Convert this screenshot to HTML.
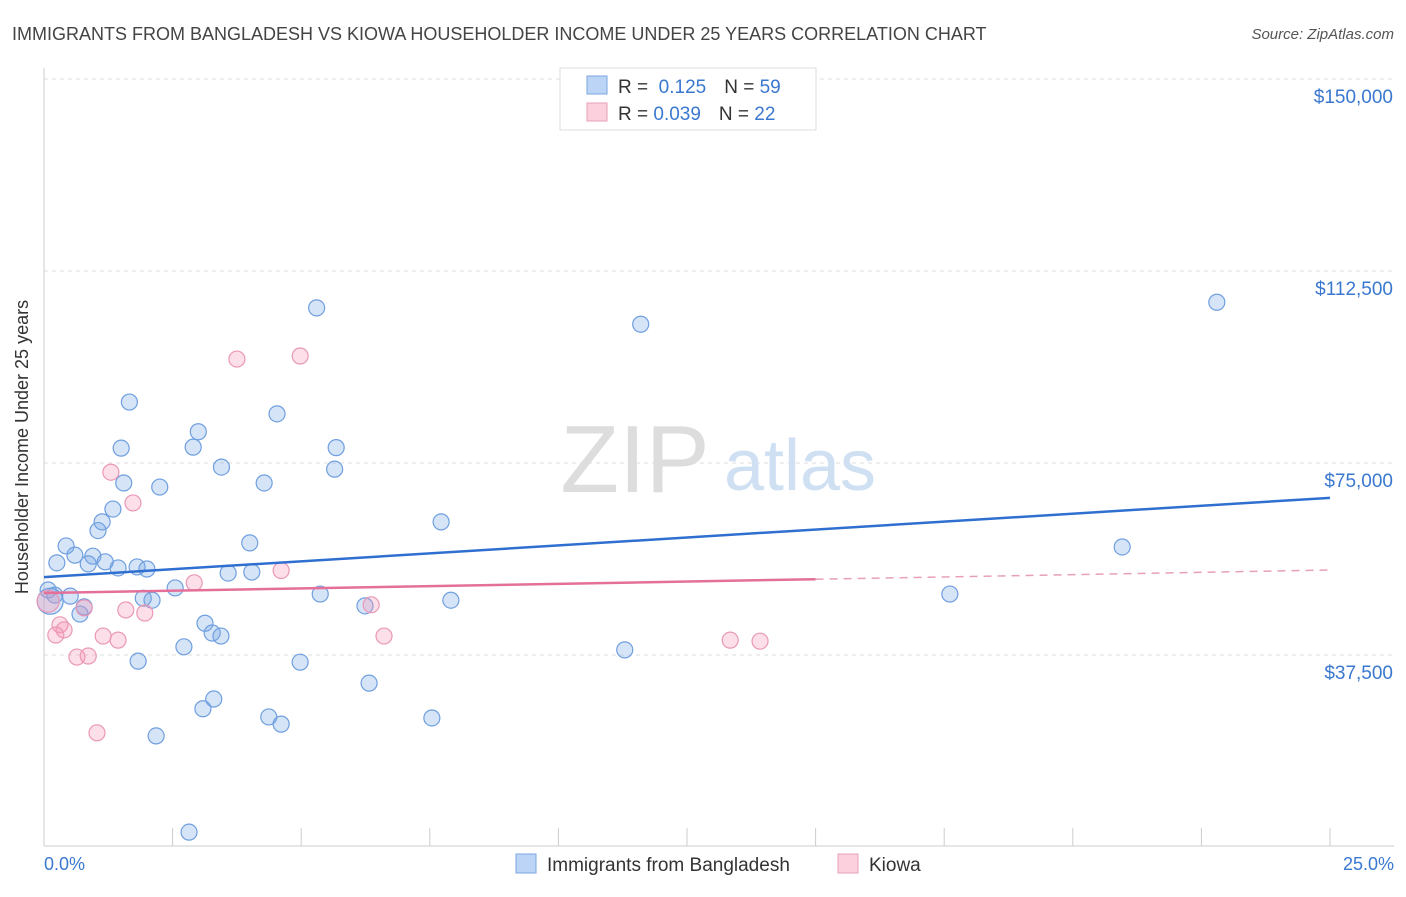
<!DOCTYPE html>
<html><head><meta charset="utf-8"><style>
body{margin:0;background:#fff;font-family:"Liberation Sans",sans-serif;}
svg text{font-family:"Liberation Sans",sans-serif;}
</style></head><body>
<svg id="chart" width="1406" height="892" viewBox="0 0 1406 892">
<text x="12" y="40" font-size="18" fill="#444">IMMIGRANTS FROM BANGLADESH VS KIOWA HOUSEHOLDER INCOME UNDER 25 YEARS CORRELATION CHART</text>
<text x="1394" y="39" font-size="15" fill="#555" text-anchor="end" font-style="italic">Source: ZipAtlas.com</text>
<g id="grid"></g>
<g id="xticks"></g>
<line x1="44" y1="68" x2="44" y2="846" stroke="#ccc"/>
<line x1="44" y1="846" x2="1394" y2="846" stroke="#ccc"/>
<text x="635" y="492" font-size="96" fill="#ddd" text-anchor="middle" font-family="Liberation Serif">ZIP</text>
<text x="800" y="490" font-size="72" fill="#cfe0f3" text-anchor="middle">atlas</text>
<g id="points"></g>
<g id="trends"></g>
<text x="36" y="455" font-size="18" fill="#333" text-anchor="middle" transform="rotate(-90 28 455)">Householder Income Under 25 years</text>
<text x="44" y="870" font-size="18" fill="#3a78d0">0.0%</text>
<text x="1394" y="870" font-size="18" fill="#3a78d0" text-anchor="end">25.0%</text>
<g>
<rect x="560" y="68" width="256" height="62" fill="#fff" stroke="#ddd"/>
<rect x="587" y="76" width="20" height="18" fill="#bcd4f5" stroke="#7aa6e0"/>
<rect x="587" y="103" width="20" height="18" fill="#fcd0dc" stroke="#e8a0b8"/>
<text x="618" y="93" font-size="19" fill="#333">R = <tspan fill="#3a78d0">&#160;0.125</tspan><tspan dx="18">N = </tspan><tspan fill="#3a78d0">59</tspan></text>
<text x="618" y="120" font-size="19" fill="#333">R = <tspan fill="#3a78d0">0.039</tspan><tspan dx="18">N = </tspan><tspan fill="#3a78d0">22</tspan></text>
</g>
<g>
<rect x="516" y="854" width="20" height="19" fill="#bcd4f5" stroke="#7aa6e0"/>
<text x="547" y="871" font-size="19" fill="#333">Immigrants from Bangladesh</text>
<rect x="838" y="854" width="20" height="19" fill="#fcd0dc" stroke="#e8a0b8"/>
<text x="869" y="871" font-size="19" fill="#333">Kiowa</text>
</g>
</svg>
<script>
const yTicks=[37500,75000,112500,150000];
const yTickLabels=["$37,500","$75,000","$112,500","$150,000"];
const xTicks=[0,2.5,5,7.5,10,12.5,15,17.5,20,22.5,25];
const blueX=[5.3,11.6,22.8,1.66,4.53,3.0,1.5,2.9,5.68,3.45,5.65,1.55,2.25,4.28,1.34,1.13,1.05,7.72,0.43,4.0,20.96,0.6,0.95,0.25,0.86,1.19,1.44,1.81,2.0,3.58,4.04,0.08,0.21,2.55,0.51,1.93,2.1,5.37,0.78,6.24,7.91,17.61,0.7,3.13,3.27,3.44,2.72,11.29,1.83,4.98,6.32,3.3,3.09,4.37,4.61,7.54,2.18,2.82,0.12];
const blueY=[105300,102100,106400,86900,84600,81100,77900,78100,78000,74200,73800,71100,70300,71100,66000,63500,61800,63500,58800,59400,58600,57000,56800,55500,55300,55700,54500,54700,54300,53500,53700,50200,49200,50600,49000,48600,48200,49400,46900,47100,48200,49400,45500,43700,41800,41200,39100,38500,36300,36100,32000,28900,27000,25400,24000,25200,21700,2900,48000];
const pinkX=[3.75,4.98,1.3,1.73,2.92,4.61,0.78,1.59,1.96,6.36,0.31,0.39,0.23,1.15,1.44,6.61,13.34,13.92,0.64,0.86,1.03,0.08];
const pinkY=[95300,95900,73200,67200,51600,54000,46700,46300,45700,47300,43400,42400,41400,41200,40400,41200,40400,40200,37100,37300,22300,48000];
const blueTrend=[52700,68200];
const pinkTrend=[49600,54100];
const pinkSolidEnd=15;
const NS="http://www.w3.org/2000/svg";
const L=44,R=1330,Y0=847,PX=192/37500;
const xs=v=>L+v/25*(R-L);
const ys=v=>Y0-v*PX;
function mk(t,a){const e=document.createElementNS(NS,t);for(const k in a)e.setAttribute(k,a[k]);return e;}
const grid=document.getElementById('grid');
yTicks.forEach((t,i)=>{
 const l=mk('line',{x1:44,x2:1394,y1:ys(t),y2:ys(t),stroke:'#ddd','stroke-dasharray':'4,4'});
 
 
 grid.appendChild(l);
 const tx=mk('text',{x:1393,y:ys(t)+24,'font-size':19,fill:'#3a78d0','text-anchor':'end'});
 tx.textContent=yTickLabels[i];
 
 
 grid.appendChild(tx);
});
const xt=document.getElementById('xticks');
xTicks.forEach(t=>{
 const l=mk('line',{x1:xs(t),x2:xs(t),y1:828,y2:846,stroke:'#ccc'});
 
 
 xt.appendChild(l);
});
const pts=document.getElementById('points');
blueX.forEach((x,i)=>{
 const c=mk('circle',{cx:xs(x),cy:ys(blueY[i]),r:i==blueX.length-1?13:8,fill:'rgba(120,165,230,0.3)',stroke:'#6f9fe0','stroke-width':1.2});
 
 
 pts.appendChild(c);
});
pinkX.forEach((x,i)=>{
 const c=mk('circle',{cx:xs(x),cy:ys(pinkY[i]),r:i==pinkX.length-1?11:8,fill:'rgba(245,150,180,0.3)',stroke:'#ea98b6','stroke-width':1.2});
 
 
 pts.appendChild(c);
});
const tr=document.getElementById('trends');
const b=mk('line',{x1:xs(0),y1:ys(blueTrend[0]),x2:xs(25),y2:ys(blueTrend[1]),stroke:'#2f6fd0','stroke-width':2.5});


tr.appendChild(b);
const pm=pinkTrend[0]+(pinkTrend[1]-pinkTrend[0])*pinkSolidEnd/25;
const p1=mk('line',{x1:xs(0),y1:ys(pinkTrend[0]),x2:xs(pinkSolidEnd),y2:ys(pm),stroke:'#e4709a','stroke-width':2.5});


tr.appendChild(p1);
const p2=mk('line',{x1:xs(pinkSolidEnd),y1:ys(pm),x2:xs(25),y2:ys(pinkTrend[1]),stroke:'#e8a0b8','stroke-width':1.5,'stroke-dasharray':'8,6'});


tr.appendChild(p2);
</script>
</body></html>
